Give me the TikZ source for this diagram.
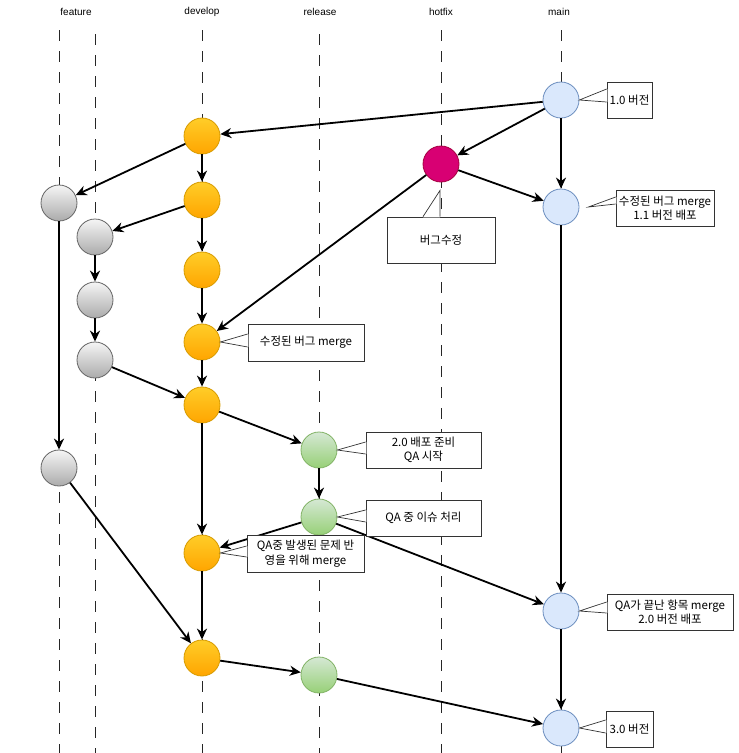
\documentclass[tikz,border=0pt]{standalone}
\usepackage{fontspec}
\setmainfont{Noto Sans CJK KR}
\newfontfamily\labelfont{Liberation Sans}
\usetikzlibrary{arrows.meta,calc}
\definecolor{grayT}{HTML}{F5F5F5}
\definecolor{grayB}{HTML}{ABABAB}
\definecolor{grayS}{HTML}{666666}
\definecolor{orgT}{HTML}{FFCD28}
\definecolor{orgB}{HTML}{FFA500}
\definecolor{orgS}{HTML}{D79B00}
\definecolor{grnT}{HTML}{D5E8D4}
\definecolor{grnB}{HTML}{97D077}
\definecolor{grnS}{HTML}{82B366}
\definecolor{bluF}{HTML}{DAE8FC}
\definecolor{bluS}{HTML}{6C8EBF}
\definecolor{magF}{HTML}{D80073}
\definecolor{magS}{HTML}{A50040}
\newcommand\wedgeL[4]{%
  \fill[white] ($(#1.west)+(0.8,#3)$) -- (#2) -- ($(#1.west)+(0.8,#4)$) -- cycle;
  \draw[notebrd] ($(#1.west)+(0,#3)$) -- (#2) -- ($(#1.west)+(0,#4)$);}
\begin{document}
\begin{tikzpicture}[x=1pt,y=-1pt,
  commit/.style={circle, minimum size=36pt, inner sep=0pt, line width=0.8pt},
  graynode/.style={commit, draw=grayS, top color=grayT, bottom color=grayB},
  orgnode/.style={commit, draw=orgS, top color=orgT, bottom color=orgB},
  grnnode/.style={commit, draw=grnS, top color=grnT, bottom color=grnB},
  blunode/.style={commit, draw=bluS, fill=bluF},
  magnode/.style={commit, draw=magS, fill=magF},
  edge/.style={line width=1.8pt, -{Stealth[length=11pt,width=10pt,inset=3.5pt]}},
  life/.style={line width=0.9pt, dash pattern=on 11pt off 10pt, black!85},
  notebrd/.style={draw=black!80, line width=0.7pt},
  note/.style={notebrd, fill=white, inner sep=0pt, align=center, font=\fontsize{11.5}{14.5}\selectfont},
  lbl/.style={font=\labelfont\fontsize{10}{12}\selectfont}]
\useasboundingbox (0,0) rectangle (739,753);

% lane labels
\node[lbl] (Lf) at (76,12) {feature};
\node[lbl] (Ld) at (202,12) {develop};
\node[lbl] (Lr) at (320,12) {release};
\node[lbl] (Lh) at (441,12) {hotfix};
\node[lbl] (Lm) at (559,12) {main};

% lifelines
\draw[life] (59,30) -- (59,753);
\draw[life] (95,34) -- (95,753);
\draw[life] (202,30) -- (202,753);
\draw[life] (319,34) -- (319,753);
\draw[life] (441,30) -- (441,753);
\draw[life] (561,30) -- (561,753);

% commits
\node[blunode] (m1) at (561,100) {};
\node[blunode] (m2) at (561,207) {};
\node[blunode] (m3) at (561,611) {};
\node[blunode] (m4) at (561,728) {};
\node[magnode] (h1) at (441,164) {};
\node[orgnode] (d1) at (202,136) {};
\node[orgnode] (d2) at (202,200) {};
\node[orgnode] (d3) at (202,270) {};
\node[orgnode] (d4) at (202,342) {};
\node[orgnode] (d5) at (202,405) {};
\node[orgnode] (d6) at (202,553) {};
\node[orgnode] (d7) at (202,658) {};
\node[grnnode] (r1) at (319,450) {};
\node[grnnode] (r2) at (319,517) {};
\node[grnnode] (r3) at (319,675) {};
\node[graynode] (f1) at (59,203) {};
\node[graynode] (f2) at (59,468) {};
\node[graynode] (g1) at (95,237) {};
\node[graynode] (g2) at (95,300) {};
\node[graynode] (g3) at (95,360) {};

% connectors
\draw[edge] (m1) -- (d1);
\draw[edge] (m1) -- (h1);
\draw[edge] (m1) -- (m2);
\draw[edge] (h1) -- (m2);
\draw[edge] (h1) -- (d4);
\draw[edge] (d1) -- (f1);
\draw[edge] (d1) -- (d2);
\draw[edge] (d2) -- (g1);
\draw[edge] (d2) -- (d3);
\draw[edge] (d3) -- (d4);
\draw[edge] (d4) -- (d5);
\draw[edge] (g1) -- (g2);
\draw[edge] (g2) -- (g3);
\draw[edge] (g3) -- (d5);
\draw[edge] (f1) -- (f2);
\draw[edge] (d5) -- (r1);
\draw[edge] (d5) -- (d6);
\draw[edge] (r1) -- (r2);
\draw[edge] (r2) -- (d6);
\draw[edge] (r2) -- (m3);
\draw[edge] (m2) -- (m3);
\draw[edge] (f2) -- (d7);
\draw[edge] (d6) -- (d7);
\draw[edge] (d7) -- (r3);
\draw[edge] (r3) -- (m4);
\draw[edge] (m3) -- (m4);

% callouts
\node[note, minimum width=45pt, minimum height=36pt] (c1) at (629.5,100) {1.0 버전};
\wedgeL{c1}{m1.east}{-11}{2}
\node[note, minimum width=98pt, minimum height=36pt] (c2) at (665,208) {수정된 버그 merge\\1.1 버전 배포};
\wedgeL{c2}{$(m2.east)+(9,0)$}{-11}{-4}
\node[note, minimum width=108pt, minimum height=46pt] (c3) at (441,240) {버그수정};
\fill[white] ($(c3.north)+(-18,0.8)$) -- ($(h1.south)+(-1,8)$) -- ($(c3.north)+(-1,0.8)$) -- cycle;
\draw[notebrd] ($(c3.north)+(-18,0)$) -- ($(h1.south)+(-1,8)$) -- ($(c3.north)+(-1,0)$);
\node[note, minimum width=116pt, minimum height=37pt] (c4) at (306,342.5) {수정된 버그 merge};
\wedgeL{c4}{d4.east}{-8.5}{4.5}
\node[note, minimum width=115pt, minimum height=36pt] (c5) at (423.5,450) {2.0 배포 준비\\QA 시작};
\wedgeL{c5}{r1.east}{-8}{4}
\node[note, minimum width=115pt, minimum height=36pt] (c6) at (423.5,518) {QA 중 이슈 처리};
\wedgeL{c6}{r2.east}{-8}{4}
\node[note, minimum width=117pt, minimum height=37pt] (c7) at (305.5,553.5) {QA중 발생된 문제 반\\영을 위해 merge};
\wedgeL{c7}{d6.east}{-7.5}{3.5}
\node[note, minimum width=126pt, minimum height=36pt] (c8) at (670,612) {QA가 끝난 항목 merge\\2.0 버전 배포};
\wedgeL{c8}{m3.east}{-10}{1}
\node[note, minimum width=47pt, minimum height=36pt] (c9) at (629.5,729) {3.0 버전};
\wedgeL{c9}{m4.east}{-9}{4}
\end{tikzpicture}
\end{document}
